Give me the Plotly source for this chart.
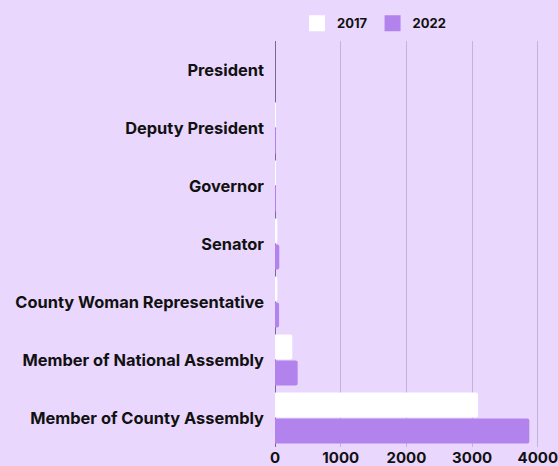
import plotly.graph_objects as go

categories = ["President", "Deputy President", "Governor", "Senator",
              "County Woman Representative", "Member of National Assembly",
              "Member of County Assembly"]
values_2017 = [0, 6, 10, 35, 35, 263, 3090]
values_2022 = [0, 2, 15, 65, 62, 345, 3870]
series_names = ["2017", "2022"]
x_ticks = [0, 1000, 2000, 3000, 4000]

BG = "#E9D7FD"
PURPLE = "#B383ED"
WHITE = "#FFFFFF"
FONT = "Inter"
INK = "#111111"

fig = go.Figure()
for name, vals, col in zip(series_names, [values_2017, values_2022], [WHITE, PURPLE]):
    fig.add_trace(go.Bar(y=categories, x=vals, name=name, orientation="h",
                         showlegend=False,
                         marker=dict(color=col, line=dict(width=0), cornerradius=2)))
# legend entries with larger square swatches
for name, col in zip(series_names, [WHITE, PURPLE]):
    fig.add_trace(go.Scatter(x=[None], y=[None], mode="markers", name=name,
                             marker=dict(symbol="square", size=17, color=col,
                                         line=dict(width=0))))

fig.update_layout(
    width=558, height=466,
    paper_bgcolor=BG, plot_bgcolor=BG,
    margin=dict(l=275, r=7, t=41, b=19),
    barmode="group", bargap=0.1, bargroupgap=0.04,
    font=dict(family=FONT, size=13, color=INK, weight="bold"),
    showlegend=True,
    legend=dict(orientation="h", x=297 / 558, xref="container", xanchor="left",
                y=0.982, yref="container", yanchor="top",
                bgcolor="rgba(0,0,0,0)", itemwidth=30, traceorder="normal",
                font=dict(family=FONT, size=13, color=INK, weight="bold")),
)
fig.update_xaxes(range=[0, 4200], tickvals=x_ticks, ticktext=[str(v) for v in x_ticks],
                 showgrid=True, gridcolor="#C6B3DC", gridwidth=1,
                 zeroline=True, zerolinecolor="#7A6A8C", zerolinewidth=1,
                 showline=False, ticks="", automargin=False, ticklabeloverflow="allow",
                 tickfont=dict(family=FONT, size=15, color=INK, weight="bold"))
fig.update_yaxes(autorange="reversed", showgrid=False, showline=False, ticks="",
                 ticklabelstandoff=10, automargin=False,
                 tickfont=dict(family=FONT, size=16.4, color=INK, weight="bold"))

fig.write_html("out.html", config={"displayModeBar": False},
               post_script="document.body.style.margin='0px';")
